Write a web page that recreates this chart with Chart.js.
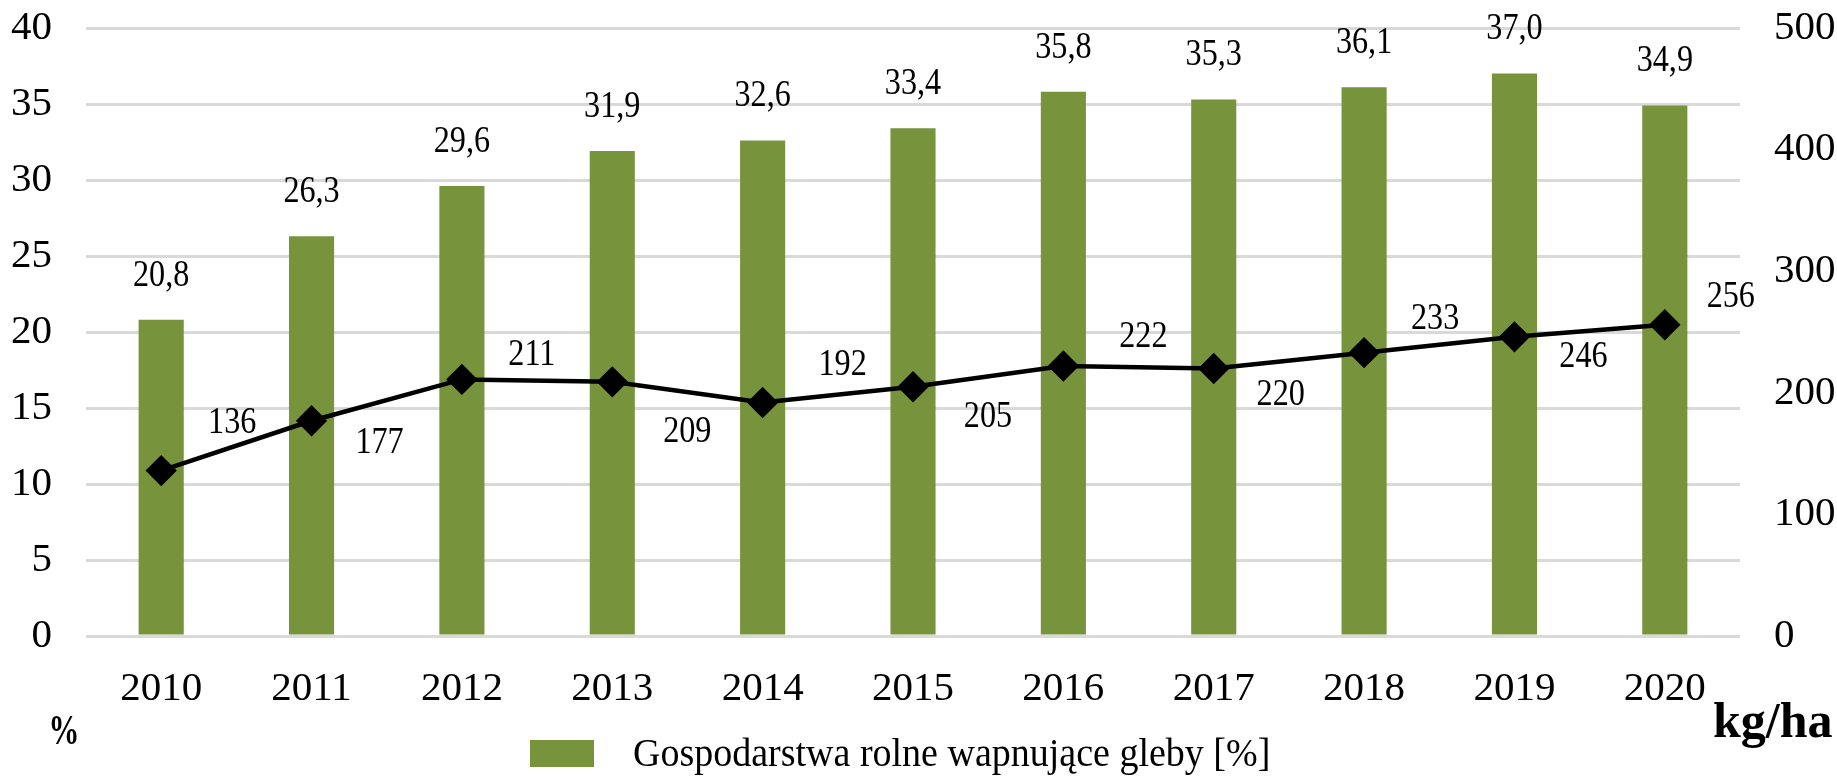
<!DOCTYPE html>
<html>
<head>
<meta charset="utf-8">
<script src="https://cdn.jsdelivr.net/npm/chart.js@4.4.1/dist/chart.umd.min.js"></script>
<style>
  html, body { margin: 0; padding: 0; background: #fff; }
</style>
</head>
<body>
<canvas id="chart" width="1837" height="776"></canvas>
<script>
const years = ['2010', '2011', '2012', '2013', '2014', '2015', '2016', '2017', '2018', '2019', '2020'];
const farmsLiming = [20.8, 26.3, 29.6, 31.9, 32.6, 33.4, 35.8, 35.3, 36.1, 37.0, 34.9];
const limeDose = [136, 177, 211, 209, 192, 205, 222, 220, 233, 246, 256];

// where the line labels sit relative to their point (px)
const lineLabelDx = [71, 68, 70, 75, 80, 75, 80, 67, 71, 69, 66];
const lineLabelDy = [-47, 23, -24, 50, -37, 31, -29, 27, -33, 20, -27];

const GREEN = '#77933c';
const SERIF = '"Liberation Serif", "DejaVu Serif", serif';
const tickFont = { family: SERIF, size: 41 };

function drawText(c, text, x, y, font, sx, align, baseline) {
  c.save();
  c.translate(x, y);
  c.scale(sx, 1);
  c.font = font;
  c.fillStyle = '#000';
  c.textAlign = align || 'center';
  c.textBaseline = baseline || 'middle';
  c.fillText(text, 0, 0);
  c.restore();
}

// fixed axis box so the plot area lands where the original has it
function fitY(width) {
  return function (s) {
    s.width = width;
    s.paddingTop = 28;
    s.paddingBottom = 0;
  };
}

const textPlugin = {
  id: 'texts',
  afterDatasetsDraw(chart) {
    const c = chart.ctx;
    const lineMeta = chart.getDatasetMeta(0);
    const barMeta = chart.getDatasetMeta(1);
    const labelFont = '37px ' + SERIF;

    barMeta.data.forEach((bar, i) => {
      drawText(c, farmsLiming[i].toFixed(1).replace('.', ','), bar.x, bar.y - 44, labelFont, 0.87);
    });
    lineMeta.data.forEach((pt, i) => {
      drawText(c, String(limeDose[i]), pt.x + lineLabelDx[i], pt.y + lineLabelDy[i], labelFont, 0.87);
    });

    // legend
    c.fillStyle = GREEN;
    c.fillRect(530, 740, 64, 27);
    drawText(c, chart.data.datasets[1].label, 633, 766, '40px ' + SERIF, 0.95, 'left', 'alphabetic');

    // axis units
    drawText(c, '%', 64, 733, 'bold 43px ' + SERIF, 0.72);
    drawText(c, 'kg/ha', 1713, 737, 'bold 50px ' + SERIF, 1, 'left', 'alphabetic');
  }
};

const ctx = document.getElementById('chart').getContext('2d');
new Chart(ctx, {
  data: {
    labels: years,
    datasets: [
      {
        type: 'line',
        label: 'kg/ha',
        data: limeDose,
        yAxisID: 'y1',
        borderColor: '#000',
        borderWidth: 4.5,
        tension: 0,
        pointStyle: 'rectRot',
        pointRadius: 12.5,
        pointBackgroundColor: '#000',
        pointBorderColor: '#000',
        order: 0
      },
      {
        type: 'bar',
        label: 'Gospodarstwa rolne wapnujące gleby [%]',
        data: farmsLiming,
        yAxisID: 'y',
        backgroundColor: GREEN,
        barPercentage: 0.3,
        categoryPercentage: 1,
        order: 1
      }
    ]
  },
  options: {
    responsive: false,
    animation: false,
    devicePixelRatio: 1,
    layout: { padding: 0 },
    plugins: {
      legend: { display: false },
      tooltip: { enabled: false }
    },
    scales: {
      x: {
        grid: { display: false },
        border: { display: false },
        ticks: { font: tickFont, color: '#000', padding: 21, maxRotation: 0 },
        afterFit(s) { s.height = 140; }
      },
      y: {
        position: 'left',
        min: 0,
        max: 40,
        ticks: { stepSize: 5, font: tickFont, color: '#000', padding: 34 },
        grid: { color: '#d9d9d9', lineWidth: 3, drawTicks: false },
        border: { display: false },
        afterFit: fitY(86)
      },
      y1: {
        position: 'right',
        min: 0,
        max: 500,
        ticks: { stepSize: 100, font: tickFont, color: '#000', padding: 26 },
        grid: { display: false },
        border: { display: false },
        afterFit: fitY(97)
      }
    }
  },
  plugins: [textPlugin]
});
</script>
</body>
</html>
